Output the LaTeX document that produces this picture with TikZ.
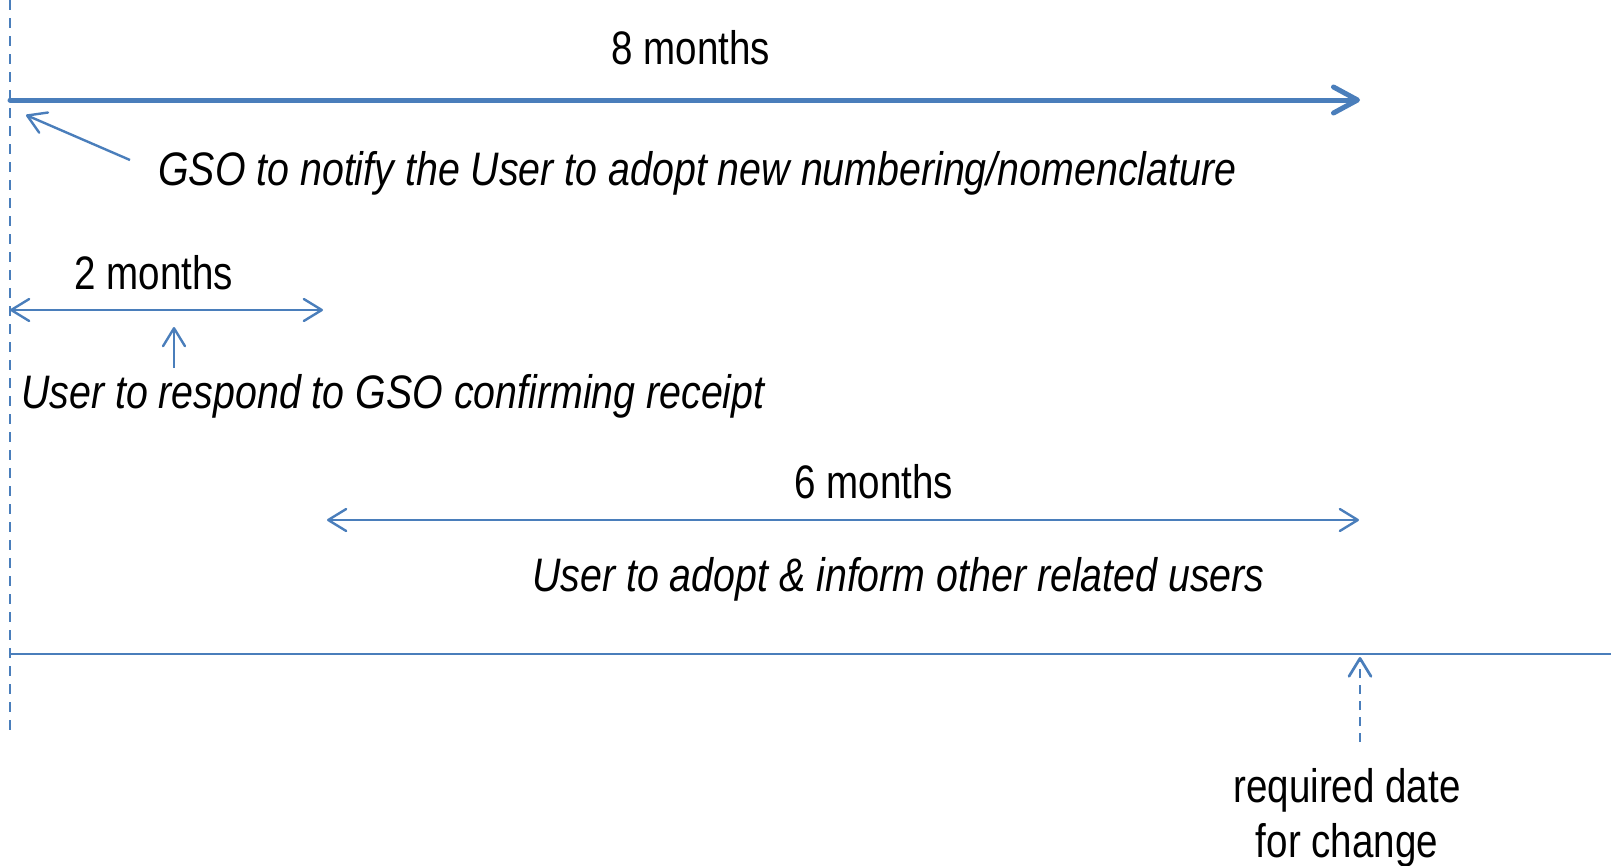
\documentclass[tikz,border=0pt]{standalone}
\usepackage{fontspec}
\setmainfont{Liberation Sans}[FakeStretch=0.82]
\newfontfamily\descfont{Liberation Sans}[FakeStretch=0.837]
\usetikzlibrary{arrows.meta}
\definecolor{lblue}{HTML}{4A7EBB}
\tikzset{
  lbl/.style={inner sep=0pt, font=\fontsize{47}{53}\selectfont},
  desc/.style={inner sep=0pt, font=\fontsize{47}{53}\descfont\itshape},
  thin/.style={draw=lblue, line width=2.4pt},
  thick/.style={draw=lblue, line width=5pt, line cap=round},
  barb/.style={-{Straight Barb[length=18pt,width=22pt,line cap=round,line join=round]}},
  bigbarb/.style={-{Straight Barb[length=24pt,width=26pt,line cap=round,line join=round]}},
  dbarb/.style={{Straight Barb[length=18pt,width=22pt,line cap=round,line join=round]}-{Straight Barb[length=18pt,width=22pt,line cap=round,line join=round]}},
  dashline/.style={draw=lblue, line width=2.7pt, dash pattern=on 10pt off 8pt},
}
\begin{document}
\begin{tikzpicture}[x=1pt,y=-1pt]
\useasboundingbox (0,0) rectangle (1611,865);
% coordinates
\coordinate (v0) at (10,0);
\coordinate (v1) at (10,732);
\coordinate (t0) at (10,100);
\coordinate (t1) at (1360,100);
\coordinate (g0) at (130,160);
\coordinate (g1) at (26,115);
\coordinate (m0) at (10,310);
\coordinate (m1) at (323,310);
\coordinate (u0) at (174,368);
\coordinate (u1) at (174,327);
\coordinate (s0) at (327,520);
\coordinate (s1) at (1359,520);
\coordinate (b0) at (10,654);
\coordinate (b1) at (1611,654);
\coordinate (r0) at (1360,742);
\coordinate (r1) at (1360,657);
% lines
\draw[dashline] (v0) -- (v1);
\draw[thick, bigbarb] (t0) -- (t1);
\draw[thin, barb] (g0) -- (g1);
\draw[thin, dbarb] (m0) -- (m1);
\draw[thin, barb] (u0) -- (u1);
\draw[thin, dbarb] (s0) -- (s1);
\draw[thin] (b0) -- (b1);
\draw[dashline, dash pattern=on 9pt off 7pt, barb] (r0) -- (r1);
% texts
\node[lbl, anchor=base] (n8) at (691,64) {8 months};
\node[desc, anchor=base west] (gso) at (158,185) {GSO to notify the User to adopt new numbering/nomenclature};
\node[lbl, anchor=base] (n2) at (154,289) {2 months};
\node[desc, anchor=base west] (resp) at (21,408) {User to respond to GSO confirming receipt};
\node[lbl, anchor=base] (n6) at (874,498) {6 months};
\node[desc, anchor=base west] (adopt) at (532,591) {User to adopt \& inform other related users};
\node[lbl, anchor=base] (req1) at (1347,802) {required date};
\node[lbl, anchor=base] (req2) at (1347,857) {for change};
\end{tikzpicture}
\end{document}
